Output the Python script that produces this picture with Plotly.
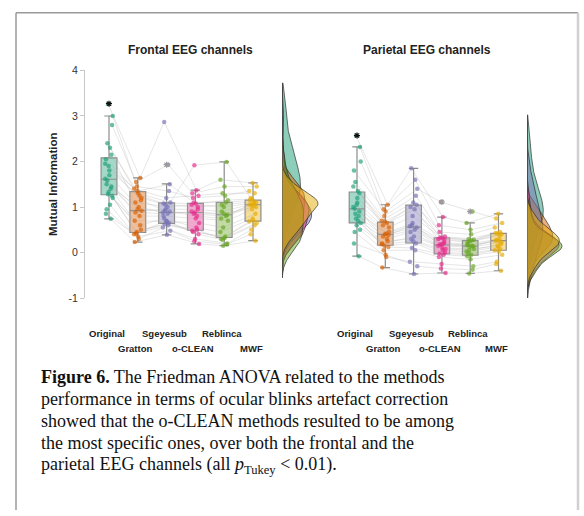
import numpy as np
import plotly.graph_objects as go

W, H = 584, 516

methods = ["Original", "Gratton", "Sgeyesub", "o-CLEAN", "Reblinca", "MWF"]
colors = ["#1b9e77", "#d95f02", "#7570b3", "#e7298a", "#66a61e", "#e6ab02"]

# ---- mutual information per subject, frontal channels ----
frontal_original = [1.62, 2.30, 0.95, 1.45, 3.27, 1.20, 1.80, 2.05, 0.74, 1.58, 2.80, 1.33,
                    1.95, 1.05, 1.50, 2.15, 1.28, 3.00, 1.70, 0.85, 1.40, 2.40, 1.25, 1.90]
frontal_gratton = [0.95, 1.40, 0.30, 0.88, 1.64, 0.45, 1.20, 1.30, 0.23, 0.80, 1.55, 0.50,
                   1.35, 0.40, 1.00, 1.10, 0.60, 1.45, 0.92, 0.35, 0.70, 1.25, 0.42, 1.15]
frontal_sgeyesub = [0.90, 1.20, 0.55, 0.85, 2.87, 0.65, 1.05, 1.10, 0.39, 0.80, 1.93, 0.62,
                    1.50, 0.70, 0.88, 1.00, 0.75, 1.35, 0.95, 0.48, 0.68, 1.08, 0.60, 0.92]
frontal_oclean = [0.85, 1.25, 0.30, 0.90, 1.37, 0.45, 1.00, 1.92, 0.19, 0.75, 1.30, 0.50,
                  1.10, 0.40, 0.88, 1.05, 0.55, 1.20, 0.95, 0.25, 0.65, 1.08, 0.48, 0.80]
frontal_reblinca = [0.80, 1.30, 0.20, 0.85, 1.60, 0.35, 1.05, 1.99, 0.15, 0.70, 1.45, 0.30,
                    1.10, 0.28, 0.83, 1.00, 0.45, 1.25, 0.90, 0.18, 0.55, 1.15, 0.32, 0.75]
frontal_mwf = [1.05, 1.30, 0.50, 1.00, 1.53, 0.68, 1.12, 1.20, 0.26, 0.95, 1.45, 0.70,
               1.15, 0.60, 1.05, 1.10, 0.75, 1.35, 1.08, 0.40, 0.85, 1.18, 0.65, 1.02]

# ---- mutual information per subject, parietal channels ----
parietal_original = [1.00, 1.35, 0.45, 0.90, 2.57, 0.65, 1.20, 1.80, -0.08, 0.85, 2.32, 0.60,
                     1.45, 0.70, 0.96, 1.30, 0.75, 2.00, 1.10, 0.20, 0.80, 1.55, 0.50, 1.05]
parietal_gratton = [0.40, 0.70, -0.10, 0.35, 1.05, 0.15, 0.55, 0.90, -0.33, 0.30, 0.95, 0.12,
                    0.68, 0.18, 0.42, 0.60, 0.25, 0.80, 0.45, -0.05, 0.20, 0.65, 0.05, 0.38]
parietal_sgeyesub = [0.55, 1.10, -0.20, 0.50, 1.85, 0.20, 0.80, 1.40, -0.47, 0.45, 1.60, 0.10,
                     1.05, 0.25, 0.58, 0.95, 0.30, 1.25, 0.65, -0.30, 0.35, 1.00, 0.05, 0.60]
parietal_oclean = [0.18, 0.35, -0.25, 0.15, 0.78, -0.02, 0.28, 1.11, -0.45, 0.10, 0.60, -0.05,
                   0.33, 0.00, 0.17, 0.30, 0.05, 0.45, 0.22, -0.35, 0.08, 0.32, -0.10, 0.20]
parietal_reblinca = [0.15, 0.30, -0.30, 0.12, 0.65, -0.05, 0.22, 0.90, -0.46, 0.08, 0.50, -0.08,
                     0.27, -0.02, 0.14, 0.25, 0.02, 0.40, 0.18, -0.38, 0.05, 0.28, -0.15, 0.16]
parietal_mwf = [0.26, 0.45, -0.20, 0.22, 0.85, 0.05, 0.38, 0.75, -0.40, 0.15, 0.65, 0.02,
                0.43, 0.08, 0.28, 0.40, 0.12, 0.55, 0.30, -0.25, 0.18, 0.42, -0.05, 0.25]

# ---- box statistics (Tukey boxes) ----
frontal_q1 = [1.27, 0.44, 0.64, 0.49, 0.33, 0.69]
frontal_median = [1.61, 0.92, 0.88, 0.88, 0.83, 1.05]
frontal_q3 = [2.08, 1.34, 1.09, 1.08, 1.10, 1.15]
frontal_low = [0.74, 0.23, 0.39, 0.19, 0.15, 0.26]
frontal_high = [3.00, 1.64, 1.51, 1.37, 1.99, 1.53]

parietal_q1 = [0.65, 0.16, 0.21, -0.03, -0.06, 0.05]
parietal_median = [0.96, 0.40, 0.56, 0.17, 0.14, 0.26]
parietal_q3 = [1.33, 0.67, 1.04, 0.32, 0.26, 0.42]
parietal_low = [-0.08, -0.33, -0.47, -0.45, -0.46, -0.40]
parietal_high = [2.32, 1.05, 1.85, 0.78, 0.65, 0.85]

# outliers flagged by the test: (method index, value)
frontal_outlier_method = [0, 2]
frontal_outlier_value = [3.27, 1.93]
parietal_outlier_method = [0, 3, 4]
parietal_outlier_value = [2.57, 1.11, 0.90]

y_ticks = [-1, 0, 1, 2, 3, 4]

caption_lines = [
    "<b>Figure 6.</b> The Friedman ANOVA related to the methods",
    "performance in terms of ocular blinks artefact correction",
    "showed that the o-CLEAN methods resulted to be among",
    "the most specific ones, over both the frontal and the",
    "parietal EEG channels (all <i>p</i><sub>Tukey</sub> &lt; 0.01).",
]

panels = [
    dict(name="Frontal EEG channels",
         data=[frontal_original, frontal_gratton, frontal_sgeyesub,
               frontal_oclean, frontal_reblinca, frontal_mwf],
         q1=frontal_q1, med=frontal_median, q3=frontal_q3,
         lo=frontal_low, hi=frontal_high,
         om=frontal_outlier_method, ov=frontal_outlier_value,
         box_axis="x", kde_axis="x2"),
    dict(name="Parietal EEG channels",
         data=[parietal_original, parietal_gratton, parietal_sgeyesub,
               parietal_oclean, parietal_reblinca, parietal_mwf],
         q1=parietal_q1, med=parietal_median, q3=parietal_q3,
         lo=parietal_low, hi=parietal_high,
         om=parietal_outlier_method, ov=parietal_outlier_value,
         box_axis="x3", kde_axis="x4"),
]


def px_x(p):
    return p / W


def px_y(p):
    return 1 - p / H


def rgba(hex_color, a):
    h = hex_color.lstrip("#")
    r, g, b = int(h[0:2], 16), int(h[2:4], 16), int(h[4:6], 16)
    return f"rgba({r},{g},{b},{a})"


def kde(vals, grid):
    v = np.asarray(vals, dtype=float)
    bw = 1.06 * v.std(ddof=1) * len(v) ** -0.2
    z = (grid[:, None] - v[None, :]) / bw
    return np.exp(-0.5 * z ** 2).sum(axis=1) / (len(v) * bw * np.sqrt(2 * np.pi))


fig = go.Figure()
shapes = []
annotations = []
kde_ranges = {}

for panel in panels:
    xa, ka = panel["box_axis"], panel["kde_axis"]
    n_sub = len(panel["data"][0])
    pos = np.arange(1, len(methods) + 1)
    jit = [[((((i * 7) + m * 5) % 12) - 5.5) / 5.5 * 0.13 for i in range(n_sub)]
           for m in range(len(methods))]

    # paired subject lines
    lx, ly = [], []
    for i in range(n_sub):
        for m in range(len(methods)):
            lx.append(pos[m] + jit[m][i])
            ly.append(panel["data"][m][i])
        lx.append(None)
        ly.append(None)
    fig.add_trace(go.Scatter(x=lx, y=ly, mode="lines", xaxis=xa, yaxis="y",
                             line=dict(color="rgba(175,175,175,0.4)", width=0.8),
                             hoverinfo="skip", showlegend=False))

    # boxes
    for m, meth in enumerate(methods):
        fig.add_trace(go.Box(
            x=[pos[m]], q1=[panel["q1"][m]], median=[panel["med"][m]],
            q3=[panel["q3"][m]], lowerfence=[panel["lo"][m]],
            upperfence=[panel["hi"][m]], name=meth, xaxis=xa, yaxis="y",
            width=0.55, whiskerwidth=0.6, boxpoints=False,
            fillcolor=rgba(colors[m], 0.4),
            line=dict(color="#8c8c8c", width=1.2), showlegend=False))

    # subject points
    for m, meth in enumerate(methods):
        fig.add_trace(go.Scatter(
            x=[pos[m] + j for j in jit[m]], y=panel["data"][m], mode="markers",
            xaxis=xa, yaxis="y",
            marker=dict(color=rgba(colors[m], 0.65), size=4.5, line=dict(width=0)),
            showlegend=False))

    # outlier flags
    oc = ["#111111" if m == 0 else "#9a9a9a" for m in panel["om"]]
    fig.add_trace(go.Scatter(
        x=[pos[m] for m in panel["om"]], y=panel["ov"], mode="markers",
        xaxis=xa, yaxis="y",
        marker=dict(symbol="asterisk-open", size=5, color=oc,
                    line=dict(color=oc, width=1.2)),
        showlegend=False))

    # half-violin densities
    all_vals = np.concatenate([np.asarray(d, float) for d in panel["data"]])
    grid = np.linspace(all_vals.min() - 0.7, all_vals.max() + 0.45, 300)
    dmax = 0
    for m, meth in enumerate(methods):
        d = kde(panel["data"][m], grid)
        dmax = max(dmax, d.max())
        fig.add_trace(go.Scatter(
            x=np.concatenate([[0], d, [0]]),
            y=np.concatenate([[grid[0]], grid, [grid[-1]]]),
            mode="lines", fill="toself", xaxis=ka, yaxis="y",
            fillcolor=rgba(colors[m], 0.5),
            line=dict(color="rgba(45,45,45,0.85)", width=0.8),
            hoverinfo="skip", showlegend=False))
    kde_ranges[ka] = dmax
    shapes.append(dict(type="line", xref=ka, yref="y", x0=0, x1=0,
                       y0=grid[0], y1=grid[-1],
                       line=dict(color="#555555", width=1.1)))

# category labels, staggered in two rows
label_font = dict(family="Liberation Sans", size=9.5, color="#222222")
for xa in ["x", "x3"]:
    for m, meth in enumerate(methods):
        annotations.append(dict(
            x=m + 1, y=px_y(335 if m % 2 == 0 else 351), xref=xa, yref="paper",
            text=f"<b>{meth}</b>", showarrow=False, font=label_font,
            xanchor="center", yanchor="middle", xshift=-2))

title_font = dict(family="Liberation Sans", size=12, color="#222222")
annotations.append(dict(x=px_x(190), y=px_y(45), xref="paper", yref="paper",
                        text="<b>Frontal EEG channels</b>", showarrow=False,
                        font=title_font, xanchor="center", yanchor="middle"))
annotations.append(dict(x=px_x(427), y=px_y(45), xref="paper", yref="paper",
                        text="<b>Parietal EEG channels</b>", showarrow=False,
                        font=title_font, xanchor="center", yanchor="middle"))

# caption, one annotation per line
cap_font = dict(family="Liberation Serif", size=18, color="#111111")
for k, line in enumerate(caption_lines):
    annotations.append(dict(x=px_x(39), y=px_y(380 + 22.5 * k), xref="paper", yref="paper",
                            text=line, showarrow=False, align="left", font=cap_font,
                            xanchor="left", yanchor="middle"))

# figure frame
shapes += [
    dict(type="line", xref="paper", yref="paper", x0=px_x(16), x1=px_x(578),
         y0=px_y(7), y1=px_y(7), line=dict(color="#9a9a9a", width=1.5)),
    dict(type="line", xref="paper", yref="paper", x0=px_x(16), x1=px_x(16),
         y0=px_y(7), y1=0, line=dict(color="#9a9a9a", width=1.5)),
    dict(type="line", xref="paper", yref="paper", x0=px_x(578), x1=px_x(578),
         y0=px_y(7), y1=0, line=dict(color="#d0d0d0", width=2.5)),
]

hidden = dict(visible=False, showgrid=False, zeroline=False, anchor="y")
fig.update_layout(
    width=W, height=H, margin=dict(l=0, r=0, t=0, b=0),
    paper_bgcolor="white", plot_bgcolor="rgba(0,0,0,0)",
    showlegend=False,
    xaxis=dict(hidden, domain=[px_x(85), px_x(270)],
               range=[(85 - 80.2) / 28.8, (270 - 80.2) / 28.8]),
    xaxis2=dict(hidden, domain=[px_x(282), px_x(340)],
                range=[0, kde_ranges["x2"] * 58 / 36]),
    xaxis3=dict(hidden, domain=[px_x(335), px_x(515)],
                range=[(335 - 328.7) / 28.3, (515 - 328.7) / 28.3]),
    xaxis4=dict(hidden, domain=[px_x(527), px_x(575)],
                range=[0, kde_ranges["x4"] * 48 / 35]),
    yaxis=dict(domain=[px_y(299), px_y(66)], range=[-1, 4], anchor="x",
               tickvals=y_ticks, ticktext=[str(t) for t in y_ticks],
               showline=True, linecolor="#c8c8c8", linewidth=1,
               ticks="outside", ticklen=4, tickcolor="#c8c8c8",
               tickfont=dict(family="Liberation Sans", size=10.5, color="#333333"),
               showgrid=False, zeroline=False,
               title=dict(text="<b>Mutual Information</b>", standoff=8,
                          font=dict(family="Liberation Sans", size=11.5, color="#222222"))),
    shapes=shapes, annotations=annotations,
)

fig.write_html("out.html")
